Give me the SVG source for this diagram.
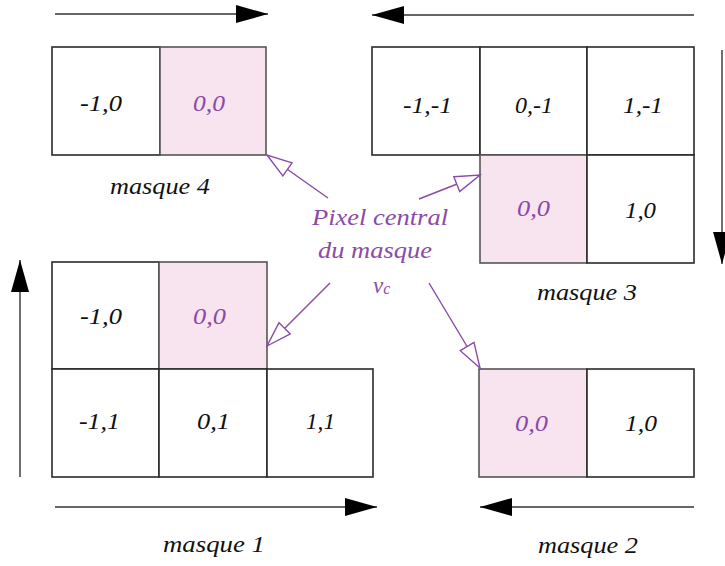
<svg xmlns="http://www.w3.org/2000/svg" width="725" height="566" viewBox="0 0 725 566">
<style>
.cell{fill:#ffffff;stroke:#2a2a2a;stroke-width:1.6}
.ctr{fill:#f7e4ef;stroke:#555;stroke-width:1.6}
.t{font-family:"Liberation Serif","Times New Roman",serif;font-style:italic;font-size:23px;fill:#111}
.p{font-family:"Liberation Serif","Times New Roman",serif;font-style:italic;font-size:23px;fill:#8a4aa8}
.dir{stroke:#333;stroke-width:1.4;fill:none;marker-end:url(#solid)}
.ptr{stroke:#8a4aa8;stroke-width:1.4;fill:none;marker-end:url(#open)}
</style>
<defs>
<marker id="solid" markerUnits="userSpaceOnUse" markerWidth="32" markerHeight="19" refX="32" refY="9" orient="auto">
<path d="M0,0 L32,9 L0,18 z" fill="#000"/>
</marker>
<marker id="open" markerUnits="userSpaceOnUse" markerWidth="28" markerHeight="20" refX="26" refY="9" orient="auto">
<path d="M1,1 L26,9 L1,17 z" fill="#fff" stroke="#8a4aa8" stroke-width="1.4"/>
</marker>
</defs>

<g id="masque4">
<rect class="cell" x="52" y="47" width="108" height="108"/>
<rect class="ctr" x="160" y="47" width="106" height="108"/>
<text class="t" x="80" y="111" textLength="42" lengthAdjust="spacingAndGlyphs">-1,0</text>
<text class="p" x="193" y="111" textLength="32" lengthAdjust="spacingAndGlyphs">0,0</text>
<text class="t" x="110" y="194" textLength="100" lengthAdjust="spacingAndGlyphs">masque 4</text>
</g>

<g id="masque3">
<rect class="cell" x="372" y="47" width="108" height="108"/>
<rect class="cell" x="480" y="47" width="107" height="108"/>
<rect class="cell" x="587" y="47" width="107" height="108"/>
<rect class="ctr" x="480" y="155" width="107" height="108"/>
<rect class="cell" x="587" y="155" width="107" height="108"/>
<text class="t" x="403" y="113" textLength="49" lengthAdjust="spacingAndGlyphs">-1,-1</text>
<text class="t" x="515" y="113" textLength="38" lengthAdjust="spacingAndGlyphs">0,-1</text>
<text class="t" x="623" y="113" textLength="40" lengthAdjust="spacingAndGlyphs">1,-1</text>
<text class="p" x="517" y="216" textLength="33" lengthAdjust="spacingAndGlyphs">0,0</text>
<text class="t" x="625" y="218" textLength="31" lengthAdjust="spacingAndGlyphs">1,0</text>
<text class="t" x="537" y="300" textLength="100" lengthAdjust="spacingAndGlyphs">masque 3</text>
</g>

<g id="masque1">
<rect class="cell" x="52" y="262" width="107" height="107"/>
<rect class="ctr" x="159" y="262" width="108" height="107"/>
<rect class="cell" x="52" y="369" width="107" height="108"/>
<rect class="cell" x="159" y="369" width="108" height="108"/>
<rect class="cell" x="267" y="369" width="106" height="108"/>
<text class="t" x="80" y="324" textLength="42" lengthAdjust="spacingAndGlyphs">-1,0</text>
<text class="p" x="193" y="324" textLength="33" lengthAdjust="spacingAndGlyphs">0,0</text>
<text class="t" x="79" y="429" textLength="41" lengthAdjust="spacingAndGlyphs">-1,1</text>
<text class="t" x="197" y="429" textLength="33" lengthAdjust="spacingAndGlyphs">0,1</text>
<text class="t" x="306" y="429" textLength="29" lengthAdjust="spacingAndGlyphs">1,1</text>
<text class="t" x="163" y="552" textLength="102" lengthAdjust="spacingAndGlyphs">masque 1</text>
</g>

<g id="masque2">
<rect class="ctr" x="479" y="369" width="108" height="108"/>
<rect class="cell" x="587" y="369" width="107" height="108"/>
<text class="p" x="515" y="431" textLength="33" lengthAdjust="spacingAndGlyphs">0,0</text>
<text class="t" x="625" y="431" textLength="32" lengthAdjust="spacingAndGlyphs">1,0</text>
<text class="t" x="538" y="553" textLength="100" lengthAdjust="spacingAndGlyphs">masque 2</text>
</g>

<g id="pixel-central">
<text class="p" x="312" y="225" textLength="136" lengthAdjust="spacingAndGlyphs">Pixel central</text>
<text class="p" x="318" y="258" textLength="114" lengthAdjust="spacingAndGlyphs">du masque</text>
<text class="p" x="373" y="293">v<tspan font-size="16" dy="1">c</tspan></text>
</g>

<g id="connectors">
<line class="dir" x1="55" y1="14" x2="268" y2="14"/>
<line class="dir" x1="694" y1="15" x2="372" y2="15"/>
<line class="dir" x1="722" y1="50" x2="722" y2="264"/>
<line class="dir" x1="20" y1="477" x2="20" y2="260"/>
<line class="dir" x1="55" y1="507" x2="377" y2="507"/>
<line class="dir" x1="694" y1="507" x2="480" y2="507"/>
<line class="ptr" x1="328" y1="198" x2="267" y2="155"/>
<line class="ptr" x1="419" y1="199" x2="480" y2="175"/>
<line class="ptr" x1="330" y1="283" x2="267" y2="346"/>
<line class="ptr" x1="429" y1="283" x2="480" y2="368"/>
</g>
</svg>
